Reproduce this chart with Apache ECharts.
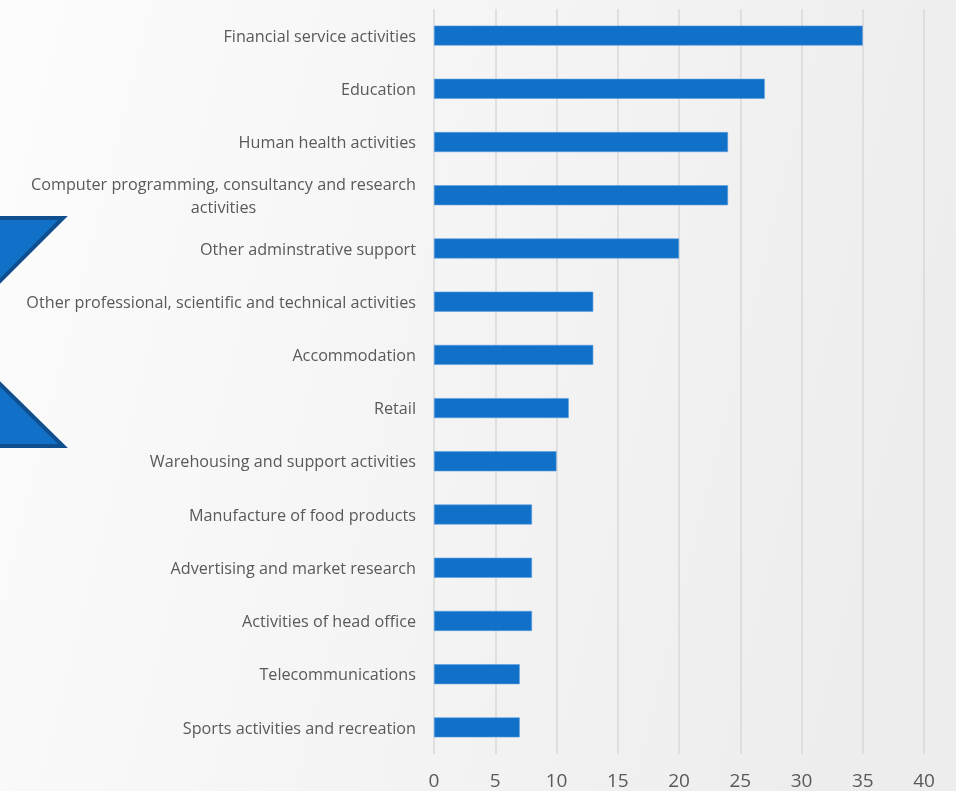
<!DOCTYPE html>
<html>
<head>
<meta charset="utf-8">
<script src="https://cdn.jsdelivr.net/npm/echarts@6/dist/echarts.min.js"></script>
<style>
  html, body { margin: 0; padding: 0; }
  #chart { width: 956px; height: 791px; }
</style>
</head>
<body>
<div id="chart"></div>
<script>
// Sectors, listed top to bottom
const categories = [
  'Financial service activities',
  'Education',
  'Human health activities',
  'Computer programming, consultancy and research\nactivities',
  'Other adminstrative support',
  'Other professional, scientific and technical activities',
  'Accommodation',
  'Retail',
  'Warehousing and support activities',
  'Manufacture of food products',
  'Advertising and market research',
  'Activities of head office',
  'Telecommunications',
  'Sports activities and recreation'
];
const values = [35, 27, 24, 24, 20, 13, 13, 11, 10, 8, 8, 8, 7, 7];
const xTicks = [0, 5, 10, 15, 20, 25, 30, 35, 40];

const chart = echarts.init(document.getElementById('chart'));
const font = '"Open Sans", "Noto Sans", sans-serif';

chart.setOption({
  backgroundColor: {
    type: 'linear', x: 0, y: 0, x2: 1, y2: 0.3,
    colorStops: [
      { offset: 0, color: '#fcfcfc' },
      { offset: 1, color: '#ededed' }
    ]
  },
  animation: false,
  grid: { left: 434, right: 32, top: 9, bottom: 37, containLabel: false },
  xAxis: {
    type: 'value',
    min: xTicks[0],
    max: xTicks[xTicks.length - 1],
    interval: 5,
    axisLine: { show: false },
    axisTick: { show: false },
    splitLine: { lineStyle: { color: '#d9d9d9', width: 1.5 } },
    axisLabel: {
      color: '#595959', fontFamily: font, fontSize: 19, margin: 18
    }
  },
  yAxis: {
    type: 'category',
    inverse: true,
    data: categories,
    axisLine: { show: false },
    axisTick: { show: false },
    axisLabel: {
      color: '#595959', fontFamily: font, fontSize: 16.2, margin: 18,
      align: 'right', lineHeight: 23, padding: [3, 0, 0, 0],
      // each line centred inside the label block (wrapped names)
      formatter: (v) => v.split('\n').map(s => '{c|' + s + '}').join('\n'),
      rich: {
        c: {
          color: '#595959', fontFamily: font, fontSize: 16.2,
          lineHeight: 23, align: 'center'
        }
      }
    }
  },
  series: [{
    type: 'bar',
    data: values,
    barWidth: 20,
    itemStyle: { color: '#1170c8', borderColor: '#5c9ee0', borderWidth: 0.6 }
  }],
  graphic: [
    {
      type: 'polygon',
      shape: { points: [[-4, 218], [63, 218], [-4, 285]] },
      style: { fill: '#1170c8', stroke: '#0f4f8e', lineWidth: 4 },
      z: 10
    },
    {
      type: 'polygon',
      shape: { points: [[-4, 380], [63, 446], [-4, 446]] },
      style: { fill: '#1170c8', stroke: '#0f4f8e', lineWidth: 4 },
      z: 10
    }
  ]
});
</script>
</body>
</html>
